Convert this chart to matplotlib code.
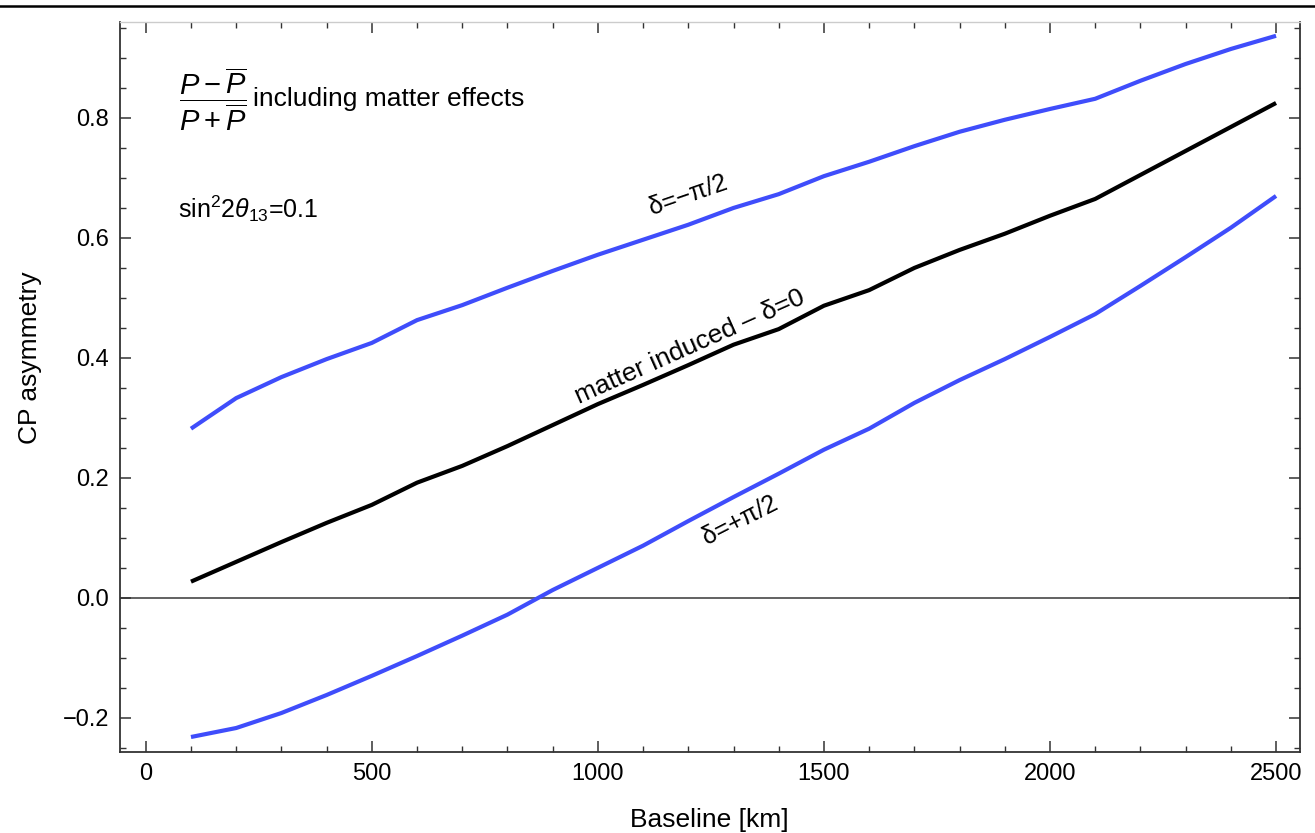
import matplotlib
matplotlib.use("Agg")
import matplotlib.pyplot as plt
from matplotlib.lines import Line2D
from matplotlib.ticker import MultipleLocator, FixedLocator, FuncFormatter

plt.rcParams['font.family'] = ['Liberation Sans', 'DejaVu Sans']
plt.rcParams['mathtext.fontset'] = 'custom'
plt.rcParams['mathtext.rm'] = 'Liberation Sans'
plt.rcParams['mathtext.it'] = 'Liberation Sans:italic'
plt.rcParams['mathtext.sf'] = 'Liberation Sans'

baseline = [100, 200, 300, 400, 500, 600, 700, 800, 900, 1000, 1100, 1200, 1300,
            1400, 1500, 1600, 1700, 1800, 1900, 2000, 2100, 2200, 2300, 2400, 2500]
delta_minus = [0.282, 0.333, 0.368, 0.398, 0.425, 0.463, 0.488, 0.517, 0.545, 0.572,
               0.597, 0.622, 0.650, 0.673, 0.703, 0.727, 0.753, 0.777, 0.797, 0.815,
               0.832, 0.862, 0.890, 0.915, 0.937]
delta_zero = [0.027, 0.060, 0.093, 0.125, 0.155, 0.192, 0.220, 0.253, 0.288, 0.323,
              0.355, 0.388, 0.422, 0.448, 0.487, 0.513, 0.550, 0.580, 0.607, 0.637,
              0.665, 0.705, 0.745, 0.785, 0.825]
delta_plus = [-0.232, -0.217, -0.192, -0.162, -0.130, -0.097, -0.063, -0.028, 0.013, 0.050,
              0.087, 0.128, 0.168, 0.207, 0.247, 0.282, 0.325, 0.363, 0.398, 0.435,
              0.473, 0.520, 0.568, 0.617, 0.670]

xticks = [0, 500, 1000, 1500, 2000, 2500]
yticks = [-0.2, 0.0, 0.2, 0.4, 0.6, 0.8]

blue = '#3f4dfb'

fig = plt.figure(figsize=(13.15, 8.33), dpi=100)
ax = fig.add_axes([120/1315, 1-752/833, (1300-120)/1315, (752-22)/833])

ax.axhline(0, color='#555555', lw=1.3, zorder=1)
ax.plot(baseline, delta_minus, color=blue, lw=3.0, solid_capstyle='butt', zorder=3)
ax.plot(baseline, delta_zero, color='black', lw=3.0, solid_capstyle='butt', zorder=3)
ax.plot(baseline, delta_plus, color=blue, lw=3.0, solid_capstyle='butt', zorder=3)

ax.set_xlim(-57, 2553)
ax.set_ylim(-0.257, 0.96)

ax.xaxis.set_major_locator(FixedLocator(xticks))
ax.xaxis.set_minor_locator(MultipleLocator(100))
ax.yaxis.set_major_locator(FixedLocator(yticks))
ax.yaxis.set_minor_locator(MultipleLocator(0.05))
ax.yaxis.set_major_formatter(FuncFormatter(lambda v, p: ('%.1f' % v).replace('-', '\u2212')))

ax.tick_params(which='both', direction='in', top=True, right=True, labelsize=17,
               color='#333333', pad=8)
ax.tick_params(which='major', length=8, width=1.1)
ax.tick_params(which='minor', length=4, width=1.0)
for s in ['left', 'bottom', 'right']:
    ax.spines[s].set_color('#333333')
    ax.spines[s].set_linewidth(1.3)
ax.spines['top'].set_color('#cccccc')
ax.spines['top'].set_linewidth(1.0)

ax.set_xlabel('Baseline [km]', fontsize=19)
ax.set_ylabel('CP asymmetry', fontsize=19)
ax.xaxis.set_label_coords(0.499, -0.093)
ax.yaxis.set_label_coords(-0.076, 0.54)
ax.xaxis.label.set_va('center')
ax.yaxis.label.set_va('center')

ax.text(0.050, 0.894, r'$\dfrac{P-\overline{P}}{P+\overline{P}}$',
        transform=ax.transAxes, fontsize=21, va='center', ha='left')
ax.text(0.1125, 0.894, 'including matter effects',
        transform=ax.transAxes, fontsize=19, va='center', ha='left')
ax.text(0.049, 0.744, r'sin$^2$2$\theta_{13}$=0.1', transform=ax.transAxes,
        fontsize=18, va='center', ha='left')

ax.text(1200, 0.672, '\u03b4=\u2212\u03c0/2', fontsize=18, rotation=19,
        ha='center', va='center', rotation_mode='anchor')
ax.text(1203, 0.418, 'matter induced \u2013 \u03b4=0', fontsize=19, rotation=24,
        ha='center', va='center', rotation_mode='anchor')
ax.text(1314, 0.13, '\u03b4=+\u03c0/2', fontsize=18, rotation=27,
        ha='center', va='center', rotation_mode='anchor')

fig.add_artist(Line2D([0, 1], [1-6/833, 1-6/833], transform=fig.transFigure,
                      color='black', lw=1.8))

fig.savefig('out.png', dpi=100)
